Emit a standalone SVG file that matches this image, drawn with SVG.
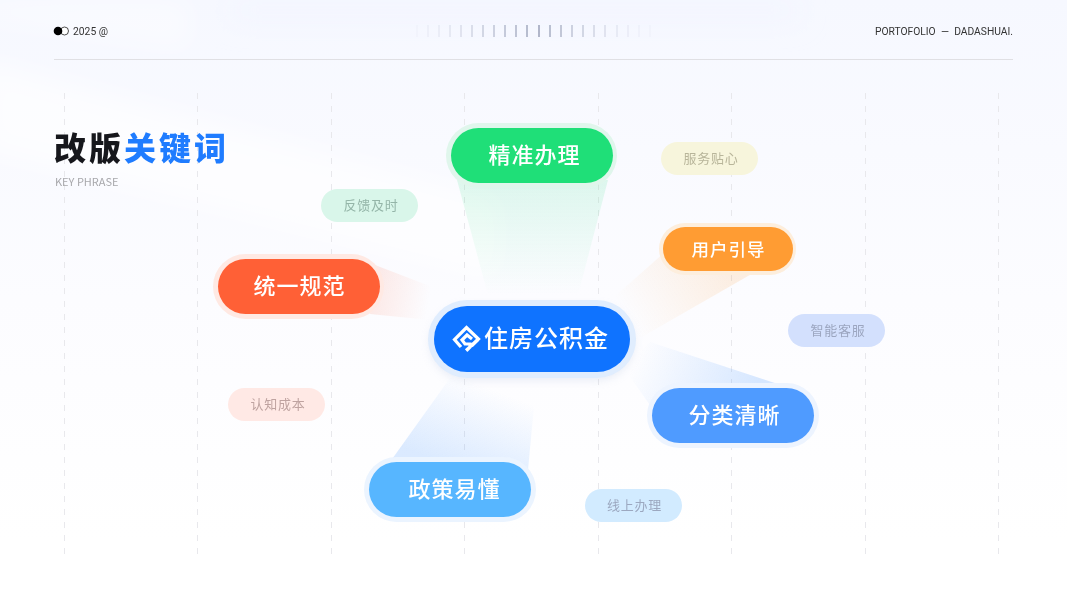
<svg xmlns="http://www.w3.org/2000/svg" width="1067" height="600" viewBox="0 0 1067 600">
<style>
text{font-family:"Noto Sans CJK SC","Noto Sans",sans-serif}
.g{stroke:#e8e8ec;stroke-width:1;stroke-dasharray:6 7;fill:none}
.t{fill:#fff;text-anchor:middle;font-weight:500;font-size:22px;letter-spacing:1px}
.s{font-size:13px;text-anchor:middle;letter-spacing:.7px}
.h{font-family:"Roboto","Liberation Sans",sans-serif;font-size:11.500px;fill:#333}
</style>
<defs>
<linearGradient id="bg" x1="0" y1="0" x2="0" y2="1"><stop offset="0" stop-color="#f6f8ff"/><stop offset=".5" stop-color="#fcfcff"/><stop offset=".9" stop-color="#fff"/></linearGradient>
<linearGradient id="fg" gradientUnits="userSpaceOnUse" x1="532" y1="180" x2="532" y2="295"><stop offset="0" stop-color="#1fdf78" stop-opacity=".13"/><stop offset="1" stop-color="#1fdf78" stop-opacity="0"/></linearGradient>
<linearGradient id="fr" gradientUnits="userSpaceOnUse" x1="375" y1="285" x2="430" y2="295"><stop offset="0" stop-color="#ff6036" stop-opacity=".12"/><stop offset="1" stop-color="#ff6036" stop-opacity="0"/></linearGradient>
<linearGradient id="fo" gradientUnits="userSpaceOnUse" x1="720" y1="260" x2="625" y2="315"><stop offset="0" stop-color="#ff9c33" stop-opacity=".14"/><stop offset="1" stop-color="#ff9c33" stop-opacity="0"/></linearGradient>
<linearGradient id="fb" gradientUnits="userSpaceOnUse" x1="750" y1="400" x2="640" y2="350"><stop offset="0" stop-color="#4f9bff" stop-opacity=".22"/><stop offset="1" stop-color="#4f9bff" stop-opacity="0"/></linearGradient>
<linearGradient id="fl" gradientUnits="userSpaceOnUse" x1="450" y1="465" x2="480" y2="385"><stop offset="0" stop-color="#4f9bff" stop-opacity=".2"/><stop offset="1" stop-color="#4f9bff" stop-opacity="0"/></linearGradient>
<filter id="blur" x="-30%" y="-50%" width="160%" height="200%"><feGaussianBlur stdDeviation="5"/></filter>
<filter id="soft" x="-30%" y="-100%" width="160%" height="300%"><feGaussianBlur stdDeviation="14"/></filter>
</defs>
<rect width="1067" height="600" fill="url(#bg)"/>
<g id="backdrop" filter="url(#soft)" fill="#fff">
<polygon points="-20,0 190,0 190,50 -20,20" opacity=".4"/>
<polygon points="-20,60 500,200 500,280 -20,150" opacity=".6"/>
<polygon points="230,0 800,0 800,20 230,20" fill="#f1f4ff" opacity=".6"/>
</g>
<g id="header">
<line x1="54" y1="59.500" x2="1013" y2="59.500" stroke="#e0e0e4"/>
<circle cx="64.500" cy="31" r="4" fill="#fff" stroke="#222" stroke-width=".8"/>
<circle cx="58" cy="31" r="4.300" fill="#000"/>
<text x="73" y="35" class="h" textLength="35" lengthAdjust="spacingAndGlyphs">2025 @</text>
<text x="875" y="35" class="h" textLength="138" lengthAdjust="spacingAndGlyphs" style="word-spacing:3px">PORTOFOLIO — DADASHUAI.</text>
<g stroke="#9aa0b8" stroke-width="1.500">
<line x1="417" y1="25" x2="417" y2="37" opacity=".05"/><line x1="428" y1="25" x2="428" y2="37" opacity=".1"/><line x1="439" y1="25" x2="439" y2="37" opacity=".15"/><line x1="450" y1="25" x2="450" y2="37" opacity=".22"/><line x1="461" y1="25" x2="461" y2="37" opacity=".3"/><line x1="472" y1="25" x2="472" y2="37" opacity=".4"/><line x1="483" y1="25" x2="483" y2="37" opacity=".5"/><line x1="494" y1="25" x2="494" y2="37" opacity=".6"/><line x1="505" y1="25" x2="505" y2="37" opacity=".7"/><line x1="516" y1="25" x2="516" y2="37" opacity=".8"/><line x1="527" y1="25" x2="527" y2="37" opacity=".9"/><line x1="539" y1="25" x2="539" y2="37"/><line x1="550" y1="25" x2="550" y2="37" opacity=".85"/><line x1="561" y1="25" x2="561" y2="37" opacity=".75"/><line x1="572" y1="25" x2="572" y2="37" opacity=".6"/><line x1="583" y1="25" x2="583" y2="37" opacity=".5"/><line x1="594" y1="25" x2="594" y2="37" opacity=".4"/><line x1="605" y1="25" x2="605" y2="37" opacity=".3"/><line x1="617" y1="25" x2="617" y2="37" opacity=".2"/><line x1="628" y1="25" x2="628" y2="37" opacity=".13"/><line x1="639" y1="25" x2="639" y2="37" opacity=".08"/><line x1="650" y1="25" x2="650" y2="37" opacity=".05"/>
</g>
</g>
<g id="grid">
<line class="g" x1="64.500" y1="93" x2="64.500" y2="557"/><line class="g" x1="197.500" y1="93" x2="197.500" y2="557"/><line class="g" x1="331.500" y1="93" x2="331.500" y2="557"/><line class="g" x1="464.500" y1="93" x2="464.500" y2="557"/><line class="g" x1="598.500" y1="93" x2="598.500" y2="557"/><line class="g" x1="731.500" y1="93" x2="731.500" y2="557"/><line class="g" x1="865.500" y1="93" x2="865.500" y2="557"/><line class="g" x1="998.500" y1="93" x2="998.500" y2="557"/>
</g>
<g id="title">
<text x="54" y="160" font-size="32" font-weight="900" fill="#16171c" letter-spacing="3">改版<tspan fill="#1f7cff">关键词</tspan></text>
<text x="55" y="186" font-size="11" fill="#a8a8ac">KEY PHRASE</text>
</g>
<g id="connectors">
<polygon points="457,180 608,180 578,295 488,295" fill="url(#fg)"/>
<polygon points="375,265 440,290 430,320 370,314" fill="url(#fr)"/>
<polygon points="665,252 755,272 640,338 605,305" fill="url(#fo)"/>
<polygon points="650,342 790,388 655,412 625,370" fill="url(#fb)"/>
<polygon points="450,378 535,395 528,470 390,462" fill="url(#fl)"/>
</g>
<g id="tag-fk"><rect x="321" y="189" width="97" height="33" rx="16.500" fill="#d9f6ea"/><text x="371" y="210" class="s" fill="#94b5a8">反馈及时</text></g>
<g id="tag-fw"><rect x="661" y="142" width="97" height="33" rx="16.500" fill="#f7f5dc"/><text x="711" y="163" class="s" fill="#b8b59a">服务贴心</text></g>
<g id="tag-zn"><rect x="788" y="314" width="97" height="33" rx="16.500" fill="#d3e0fd"/><text x="838" y="335" class="s" fill="#9ca6c0">智能客服</text></g>
<g id="tag-rz"><rect x="228" y="388" width="97" height="33" rx="16.500" fill="#ffe9e5"/><text x="278" y="409" class="s" fill="#bfa3a0">认知成本</text></g>
<g id="tag-xs"><rect x="585" y="489" width="97" height="33" rx="16.500" fill="#d2ebff"/><text x="634.500" y="510" class="s" fill="#9ca8c0">线上办理</text></g>
<g id="node-green"><rect x="446" y="123" width="171" height="65" rx="32.500" fill="#e0f6ec"/><rect x="451" y="128" width="162" height="55" rx="27.500" fill="#1fdf78"/><text x="534.500" y="163" class="t">精准办理</text></g>
<g id="node-red"><rect x="213" y="254" width="171" height="65" rx="32.500" fill="#ffe9e3"/><rect x="218" y="259" width="162" height="55" rx="27.500" fill="#ff6036"/><text x="299.500" y="294" class="t">统一规范</text></g>
<g id="node-orange"><rect x="659" y="223" width="137" height="52" rx="26" fill="#fdeedd"/><rect x="663" y="227" width="130" height="44" rx="22" fill="#ff9c33"/><text x="728.500" y="256" class="t" style="font-size:17.500px;letter-spacing:1px">用户引导</text></g>
<g id="node-blue"><rect x="647" y="383" width="172" height="65" rx="32.500" fill="#edf4ff"/><rect x="652" y="388" width="162" height="55" rx="27.500" fill="#4f9bff"/><text x="734.500" y="423" class="t">分类清晰</text></g>
<g id="node-sky"><rect x="364" y="457" width="172" height="65" rx="32.500" fill="#ebf4ff"/><rect x="369" y="462" width="162" height="55" rx="27.500" fill="#57b6ff"/><text x="454.500" y="497" class="t">政策易懂</text></g>
<g id="node-center">
<rect x="430" y="306" width="204" height="74" rx="37" fill="#a9b9d8" opacity=".25" filter="url(#blur)"/>
<rect x="428" y="300" width="208" height="78" rx="39" fill="#e0edfe"/>
<rect x="434" y="306" width="196" height="66" rx="33" fill="#0f73ff"/>
<g fill="none" stroke="#fff" stroke-width="3.200"><path d="M461 347l-6.500-7.500 12-12 12 11.500-7 7"/><path d="M466 350.500l12-11M466.500 350.500l3.500-3.500 0-3-5 0-3-4 5-5 5 4"/></g>
<text x="546.500" y="347" class="t" style="font-size:24px;font-weight:500;letter-spacing:1px">住房公积金</text>
</g>
</svg>
